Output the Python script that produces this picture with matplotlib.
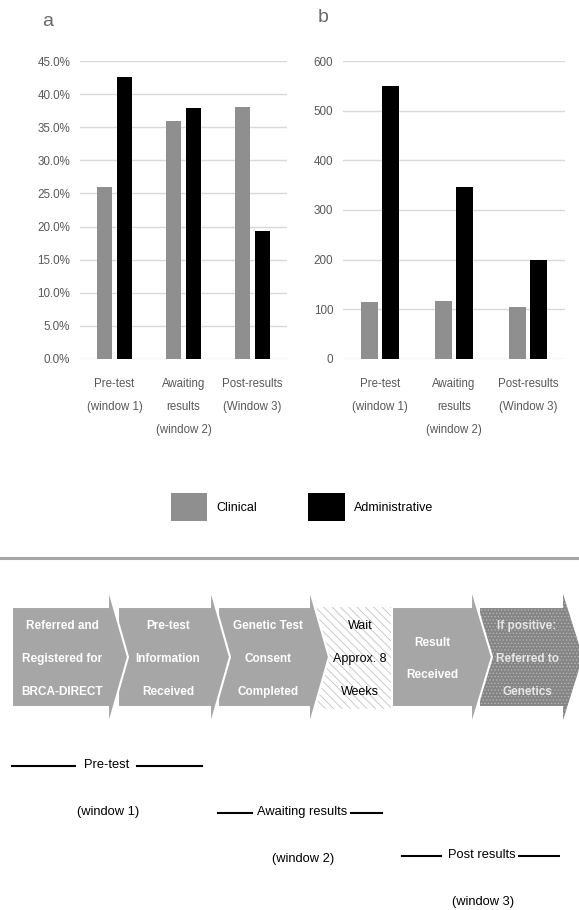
import numpy as np
import matplotlib.pyplot as plt
from matplotlib.patches import Polygon

plt.rcParams['font.family'] = ['Liberation Sans', 'DejaVu Sans']
plt.rcParams['hatch.linewidth'] = 0.6

# data
windows = ['Pre-test\n(window 1)', 'Awaiting\nresults\n(window 2)', 'Post-results\n(Window 3)']
clinical_pct = [26.0, 35.9, 38.0]
admin_pct = [42.6, 37.9, 19.3]
clinical_n = [115, 117, 105]
admin_n = [550, 346, 200]
pct_ticks = np.arange(0, 46, 5)
n_ticks = np.arange(0, 601, 100)
series = ['Clinical', 'Administrative']
colors = ['#8f8f8f', '#000000']

steps = ['Referred and\nRegistered for\nBRCA-DIRECT', 'Pre-test\nInformation\nReceived',
         'Genetic Test\nConsent\nCompleted', 'Wait\nApprox. 8\nWeeks', 'Result\nReceived',
         'If positive:\nReferred to\nGenetics']
phase_names = ['Pre-test', 'Awaiting results', 'Post results']
phase_windows = ['(window 1)', '(window 2)', '(window 3)']

W, H = 579, 910
fig = plt.figure(figsize=(W / 100, H / 100), dpi=100)

# overlay in pixel coords for the diagram / legend
ov = fig.add_axes([0, 0, 1, 1])
ov.set_xlim(0, W)
ov.set_ylim(H, 0)
ov.axis('off')


def bar_panel(rect, c, a, ticks, fmt, ymax):
    ax = fig.add_axes(rect)
    x = np.arange(len(windows))
    ax.bar(x - 0.145, c, 0.23, color=colors[0], zorder=3, label=series[0])
    ax.bar(x + 0.145, a, 0.23, color=colors[1], zorder=3, label=series[1])
    ax.set_xlim(-0.5, 2.5)
    ax.set_ylim(0, ymax)
    ax.set_yticks(ticks)
    ax.set_yticklabels([fmt(v) for v in ticks])
    ax.set_xticks(x)
    ax.set_xticklabels(windows, fontsize=8.3)
    for t in ax.get_xticklabels():
        t.set_linespacing(2.2)
    ax.yaxis.grid(True, color='#d9d9d9', lw=1)
    ax.set_axisbelow(True)
    for s in ax.spines.values():
        s.set_visible(False)
    ax.tick_params(length=0, colors='#595959')
    ax.tick_params(axis='y', pad=7, labelsize=8.4)
    ax.tick_params(axis='x', pad=14)
    return ax


ax1 = bar_panel([80 / W, 1 - 359 / H, 207 / W, 298 / H], clinical_pct, admin_pct,
                pct_ticks, lambda v: f'{v:.1f}%', 45)
ax2 = bar_panel([343 / W, 1 - 359 / H, 222 / W, 298 / H], clinical_n, admin_n,
                n_ticks, lambda v: f'{v}', 600)

ov.text(48, 22, 'a', fontsize=14, color='#6a6a6a', ha='center', va='center')
ov.text(323, 18, 'b', fontsize=14, color='#6a6a6a', ha='center', va='center')

# legend
h, l = ax1.get_legend_handles_labels()
fig.legend(h, l, loc='center', bbox_to_anchor=(302 / W, 1 - 507 / H), ncol=2,
           frameon=False, fontsize=9, handlelength=2.95, handleheight=2.95,
           handletextpad=0.72, columnspacing=4.1)

# separator
ov.plot([0, W], [558, 558], color='#a6a6a6', lw=2.2)

# flow diagram
body = [(12, 108, 128), (118, 210, 230), (218, 309, 329), (317, 391, None),
        (392, 471, 492), (479, 562, 584)]
text_x = [62, 168, 268, 360, 432, 527]
top, bot, atop, abot = 607, 707, 587, 727
for i in range(len(steps) - 1, -1, -1):
    x0, x1, xt = body[i]
    if xt is None:
        pts = [(x0, top), (x1, top), (x1, bot + 2), (x0, bot + 2)]
    else:
        pts = [(x0, top), (x1, top), (x1, atop), (xt, (top + bot) / 2),
               (x1, abot), (x1, bot), (x0, bot)]
    if i == 3:
        ov.add_patch(Polygon(pts, closed=True, facecolor='white', edgecolor='#c4c4c4',
                             hatch='\\\\\\\\', lw=0))
        tcol = 'black'
    elif i == 5:
        ov.add_patch(Polygon(pts, closed=True, facecolor='#858585', edgecolor='#b5b5b5',
                             hatch='.....', lw=0))
        ov.add_patch(Polygon(pts, closed=True, fill=False, edgecolor='white', lw=1.5))
        tcol = '#e6e6e6'
    else:
        ov.add_patch(Polygon(pts, closed=True, facecolor='#a6a6a6', edgecolor='white', lw=1.5))
        tcol = 'white'
    lines = steps[i].split('\n')
    n = len(lines)
    y0 = (top + bot) / 2 + 2 - (n - 1) / 2 * 33
    for k, ln in enumerate(lines):
        ov.text(text_x[i], y0 + k * 33, ln, ha='center', va='center',
                fontsize=9 if i == 3 else 8.5,
                color=tcol, fontweight='normal' if i == 3 else 'bold')

# phase windows
phase_cx = [107, 302, 482]
phase_y = [765, 812, 855]
phase_lines = [((12, 75), (137, 202)), ((218, 252), (351, 382)), ((402, 441), (519, 559))]
for name, win, cx, y, (la, lb) in zip(phase_names, phase_windows, phase_cx, phase_y, phase_lines):
    ov.text(cx, y, name, ha='center', va='center', fontsize=9.3)
    ov.text(cx + 1, y + 47, win, ha='center', va='center', fontsize=9.3)
    ov.plot(la, [y + 1, y + 1], color='black', lw=1.5)
    ov.plot(lb, [y + 1, y + 1], color='black', lw=1.5)

fig.savefig('out.png', dpi=100)
